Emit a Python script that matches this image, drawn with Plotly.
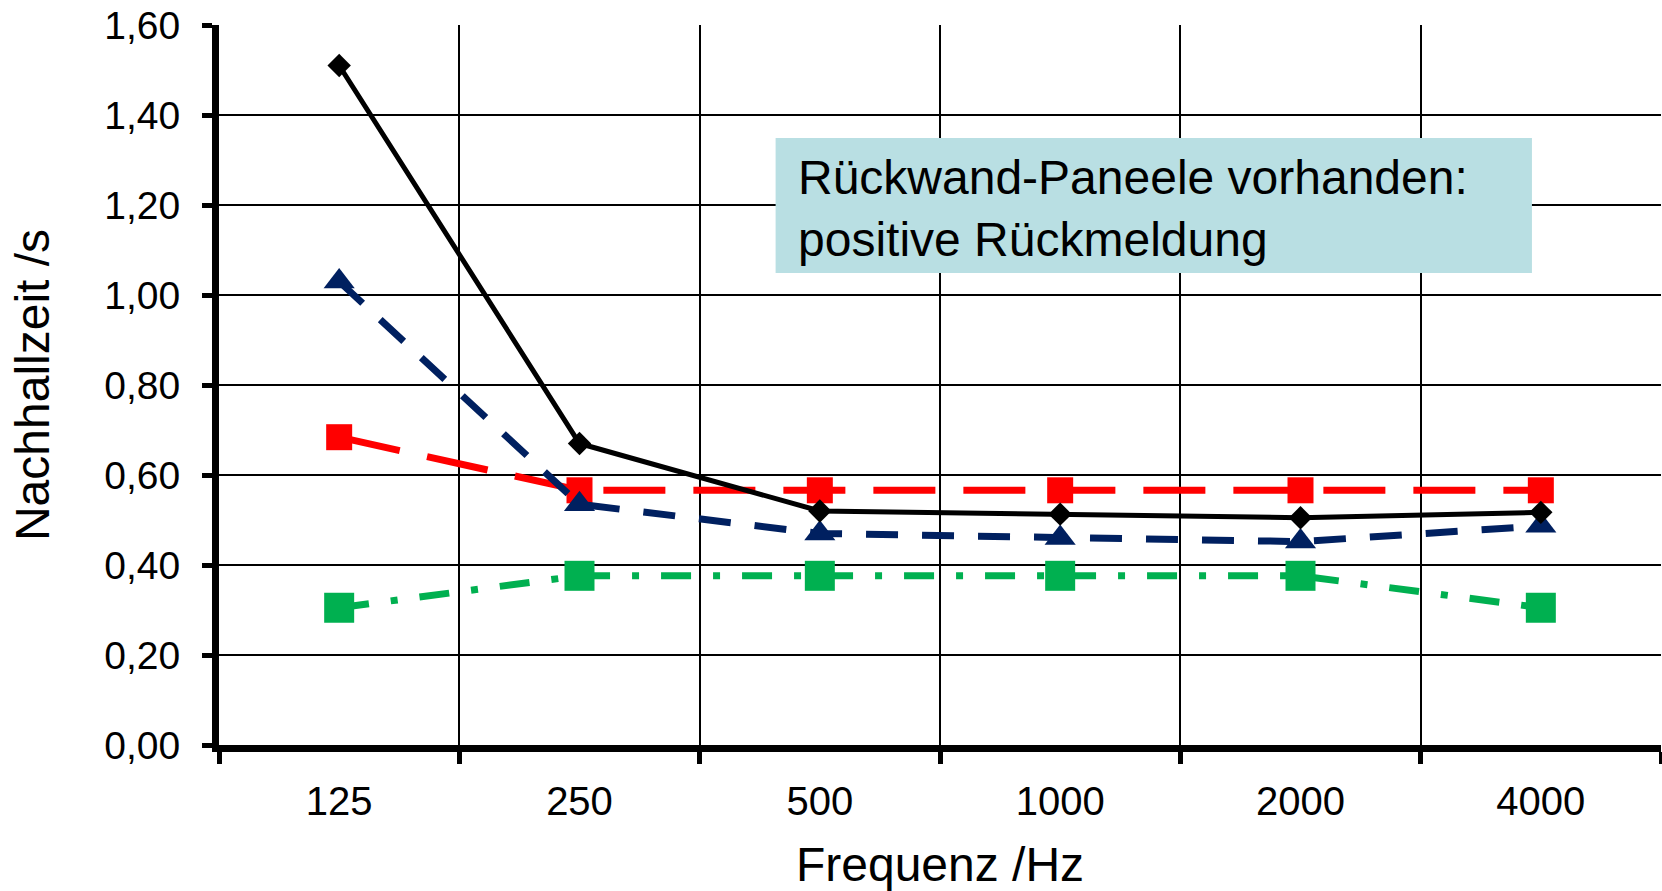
import plotly.graph_objects as go

freqs = ["125", "250", "500", "1000", "2000", "4000"]
black_vals = [1.51, 0.67, 0.52, 0.513, 0.505, 0.517]
blue_vals = [1.03, 0.535, 0.47, 0.46, 0.452, 0.487]
red_vals = [0.684, 0.566, 0.566, 0.566, 0.566, 0.566]
green_vals = [0.305, 0.376, 0.376, 0.376, 0.376, 0.305]

y_ticks = [0.0, 0.2, 0.4, 0.6, 0.8, 1.0, 1.2, 1.4, 1.6]

FONT = "Liberation Sans, Arial, sans-serif"

fig = go.Figure()

fig.add_trace(go.Scatter(
    x=freqs, y=green_vals, mode="lines+markers",
    line=dict(color="#00B050", width=7, dash="30px,22px,7px,22px"),
    marker=dict(symbol="square", size=30, color="#00B050"),
    showlegend=False))
fig.add_trace(go.Scatter(
    x=freqs, y=red_vals, mode="lines+markers",
    line=dict(color="#FF0000", width=7, dash="62px,28px"),
    marker=dict(symbol="square", size=26, color="#FF0000"),
    showlegend=False))
fig.add_trace(go.Scatter(
    x=freqs, y=blue_vals, mode="lines+markers",
    line=dict(color="#002060", width=7, dash="32px,24px"),
    marker=dict(symbol="triangle-up", size=27, color="#002060"),
    showlegend=False))
fig.add_trace(go.Scatter(
    x=freqs, y=black_vals, mode="lines+markers",
    line=dict(color="#000000", width=5),
    marker=dict(symbol="diamond", size=18, color="#000000"),
    showlegend=False))

fig.add_shape(type="rect", xref="paper", yref="paper",
              x0=0.386, x1=0.9105, y0=0.6556, y1=0.843,
              fillcolor="#B9DFE3", line=dict(width=0), layer="above")
fig.add_annotation(xref="paper", yref="paper", x=0.400, y=0.745,
                   xanchor="left", yanchor="middle", align="left",
                   showarrow=False,
                   text="Rückwand-Paneele vorhanden:<br>positive Rückmeldung",
                   font=dict(family=FONT, size=48, color="#000000"))

fig.update_layout(
    width=1662, height=891,
    margin=dict(l=219, r=1, t=25, b=146),
    paper_bgcolor="white", plot_bgcolor="white",
    separators=",.",
    font=dict(family=FONT, color="#000000"),
    xaxis=dict(
        type="category", tickson="boundaries",
        showgrid=True, gridcolor="#000000", gridwidth=2,
        showline=True, linecolor="#000000", linewidth=7,
        ticks="outside", ticklen=12, tickwidth=5, tickcolor="#000000",
        ticklabelstandoff=15,
        tickfont=dict(size=40, family=FONT),
        title=dict(text="Frequenz /Hz", font=dict(size=48, family=FONT), standoff=30),
        range=[-0.5, 5.5],
    ),
    yaxis=dict(
        range=[0, 1.6], tickvals=y_ticks, tickformat=".2f",
        showgrid=True, gridcolor="#000000", gridwidth=2,
        zeroline=False,
        showline=True, linecolor="#000000", linewidth=7,
        ticks="outside", ticklen=10, tickwidth=5, tickcolor="#000000",
        ticklabelstandoff=14,
        tickfont=dict(size=39, family=FONT),
        title=dict(text="Nachhallzeit /s", font=dict(size=48, family=FONT), standoff=42),
    ),
)

fig.write_html("out.html")
